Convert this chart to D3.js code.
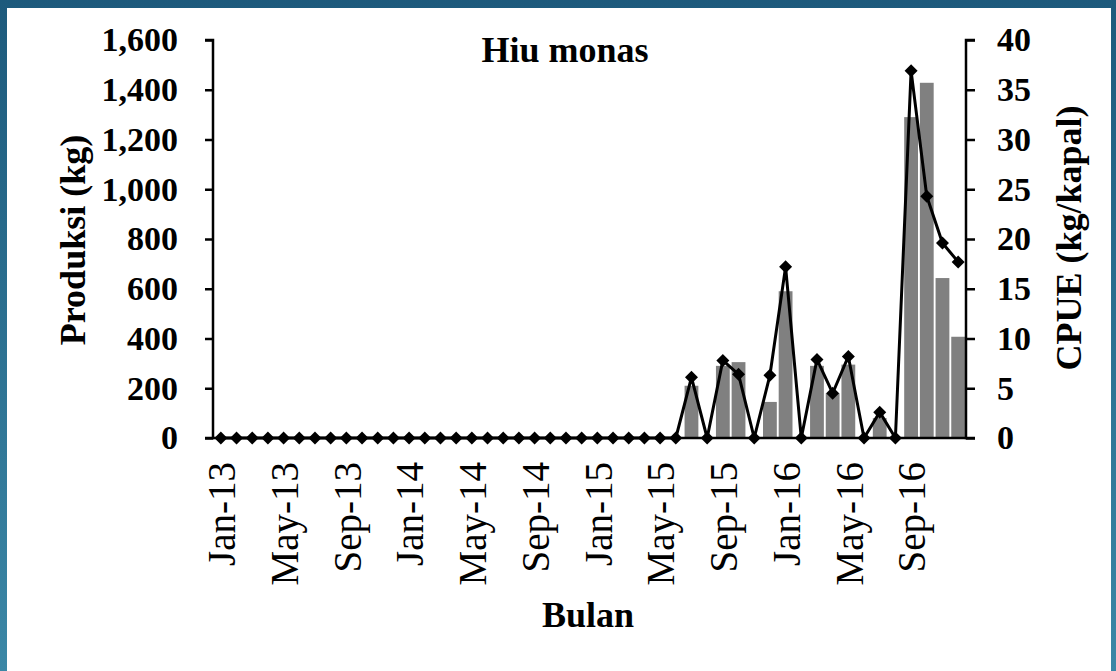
<!DOCTYPE html>
<html>
<head>
<meta charset="utf-8">
<script src="https://cdn.jsdelivr.net/npm/d3@7/dist/d3.min.js"></script>
<style>
  html, body { margin: 0; padding: 0; background: #fff; }
  svg { display: block; }
  text { font-family: "Liberation Serif", "Times New Roman", serif; fill: #000; }
</style>
</head>
<body>
<svg id="chart" width="1116" height="671"></svg>
<script>
const months = [
  "Jan-13","Feb-13","Mar-13","Apr-13","May-13","Jun-13","Jul-13","Aug-13","Sep-13","Oct-13","Nov-13","Dec-13",
  "Jan-14","Feb-14","Mar-14","Apr-14","May-14","Jun-14","Jul-14","Aug-14","Sep-14","Oct-14","Nov-14","Dec-14",
  "Jan-15","Feb-15","Mar-15","Apr-15","May-15","Jun-15","Jul-15","Aug-15","Sep-15","Oct-15","Nov-15","Dec-15",
  "Jan-16","Feb-16","Mar-16","Apr-16","May-16","Jun-16","Jul-16","Aug-16","Sep-16","Oct-16","Nov-16","Dec-16"
];
// Produksi (kg) - bars
const produksi = [
  0,0,0,0,0,0,0,0,0,0,0,0,
  0,0,0,0,0,0,0,0,0,0,0,0,
  0,0,0,0,0,0,210,0,290,305,0,145,
  590,0,290,180,295,0,80,0,1290,1428,643,407
];
// CPUE (kg/kapal) - line
const cpue = [
  0,0,0,0,0,0,0,0,0,0,0,0,
  0,0,0,0,0,0,0,0,0,0,0,0,
  0,0,0,0,0,0,6.1,0,7.8,6.4,0,6.3,
  17.2,0,7.9,4.5,8.2,0,2.6,0,36.9,24.3,19.6,17.7
];
const xTickLabels = ["Jan-13","May-13","Sep-13","Jan-14","May-14","Sep-14","Jan-15","May-15","Sep-15","Jan-16","May-16","Sep-16"];
const leftTicks = [0,200,400,600,800,1000,1200,1400,1600];
const rightTicks = [0,5,10,15,20,25,30,35,40];

const FONT = "Liberation Serif, Times New Roman, serif";
const svg = d3.select("#chart");

// slide-like background frame
const grad = svg.append("defs").append("linearGradient").attr("id","frame").attr("x1","0").attr("y1","0").attr("x2","0").attr("y2","1");
grad.append("stop").attr("offset","0").attr("stop-color","#1d5a7c");
grad.append("stop").attr("offset","1").attr("stop-color","#3b87a6");
svg.append("rect").attr("x",0).attr("y",0).attr("width",1116).attr("height",671).attr("fill","url(#frame)");
svg.append("rect").attr("x",7).attr("y",8).attr("width",1104).attr("height",663).attr("fill","#fff");

const pLeft = 213, pRight = 966, pTop = 40, pBottom = 438;

const x = d3.scaleBand().domain(months).range([pLeft, pRight]).paddingInner(0.12).paddingOuter(0.06);
const yL = d3.scaleLinear().domain([0,1600]).range([pBottom, pTop]);
const yR = d3.scaleLinear().domain([0,40]).range([pBottom, pTop]);

// bars
svg.append("g").selectAll("rect").data(months).join("rect")
  .attr("x", d => x(d))
  .attr("width", x.bandwidth())
  .attr("y", (d,i) => yL(produksi[i]))
  .attr("height", (d,i) => pBottom - yL(produksi[i]))
  .attr("fill", "#808080");

// x baseline
svg.append("line").attr("x1", pLeft).attr("x2", pRight).attr("y1", pBottom).attr("y2", pBottom)
  .attr("stroke","#000").attr("stroke-width",2.5);

// left axis
const gL = svg.append("g").attr("transform",`translate(${pLeft},0)`)
  .call(d3.axisLeft(yL).tickValues(leftTicks).tickFormat(d3.format(",")).tickSize(8).tickPadding(27));
gL.select(".domain").attr("stroke","#000").attr("stroke-width",2.5).attr("d",`M-8,${pTop}H0V${pBottom}H-8`);
gL.selectAll(".tick line").attr("stroke","#000").attr("stroke-width",2.5);
gL.selectAll(".tick text").attr("font-family",FONT).attr("font-weight","bold").attr("font-size",34).attr("fill","#000");

// right axis
const gR = svg.append("g").attr("transform",`translate(${pRight},0)`)
  .call(d3.axisRight(yR).tickValues(rightTicks).tickSize(9).tickPadding(22));
gR.select(".domain").attr("stroke","#000").attr("stroke-width",2.5).attr("d",`M9,${pTop}H0V${pBottom}H9`);
gR.selectAll(".tick line").attr("stroke","#000").attr("stroke-width",2.5);
gR.selectAll(".tick text").attr("font-family",FONT).attr("font-weight","bold").attr("font-size",34).attr("fill","#000");

// x tick labels
svg.append("g").selectAll("text").data(xTickLabels).join("text")
  .attr("transform", d => `translate(${x(d) + x.bandwidth()/2 + 1},462) rotate(-90)`)
  .attr("text-anchor","end")
  .attr("dy","0.34em")
  .attr("font-family",FONT)
  .attr("font-size",39)
  .text(d => d);

// line
const line = d3.line().x((d,i) => x(months[i]) + x.bandwidth()/2).y(d => yR(d));
svg.append("path").datum(cpue).attr("d", line).attr("fill","none").attr("stroke","#000").attr("stroke-width",3).attr("stroke-linejoin","round");

// diamond markers
const dm = 6.5;
svg.append("g").selectAll("path").data(cpue).join("path")
  .attr("transform",(d,i) => `translate(${x(months[i]) + x.bandwidth()/2},${yR(d)})`)
  .attr("d", `M0,${-dm}L${dm},0L0,${dm}L${-dm},0Z`)
  .attr("fill","#000");

// titles
svg.append("text").attr("x",565).attr("y",62).attr("text-anchor","middle")
  .attr("font-family",FONT).attr("font-weight","bold").attr("font-size",36).text("Hiu monas");
svg.append("text").attr("x",588).attr("y",627).attr("text-anchor","middle")
  .attr("font-family",FONT).attr("font-weight","bold").attr("font-size",36).text("Bulan");
svg.append("text").attr("transform","translate(72,240) rotate(-90)").attr("text-anchor","middle")
  .attr("dy","0.35em").attr("font-family",FONT).attr("font-weight","bold").attr("font-size",36).text("Produksi (kg)");
svg.append("text").attr("transform","translate(1068,238) rotate(-90)").attr("text-anchor","middle")
  .attr("dy","0.35em").attr("font-family",FONT).attr("font-weight","bold").attr("font-size",36).text("CPUE (kg/kapal)");
</script>
</body>
</html>
